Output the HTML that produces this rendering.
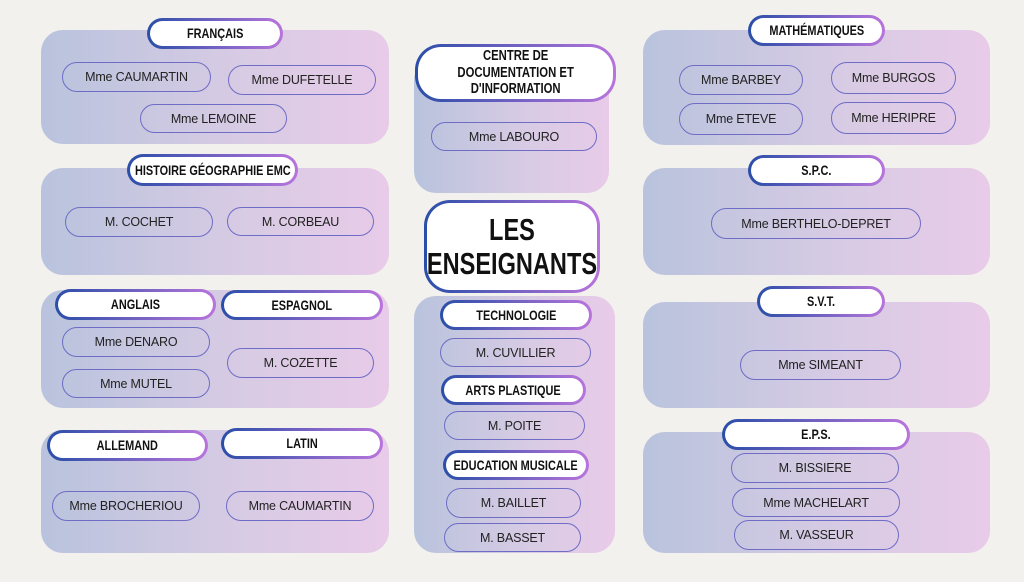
<!DOCTYPE html>
<html><head><meta charset="utf-8"><style>
body{margin:0;width:1024px;height:582px;background:#f3f1ee;position:relative;overflow:hidden;font-family:"Liberation Sans",sans-serif}
.p{position:absolute;border-radius:22px;background:linear-gradient(90deg,#b9c3dd,#d9cbe4 60%,#e8cbe8)}
.h{position:absolute;box-sizing:border-box;border:3px solid transparent;border-radius:18px;background:linear-gradient(#fff,#fff) padding-box,linear-gradient(90deg,#2a4ea8,#b875dc) border-box;display:flex;align-items:center;justify-content:center;text-align:center;font-family:"Liberation Sans",sans-serif;font-weight:bold;font-size:14px;color:#111;line-height:1.2;white-space:nowrap}
.h span{display:inline-block;transform:scaleX(.78)}
.n{position:absolute;box-sizing:border-box;border:1.5px solid #6f6cc6;border-radius:16px;display:flex;align-items:center;justify-content:center;font-size:12.5px;color:#222;letter-spacing:-0.2px;white-space:nowrap}
</style></head><body>
<div class="p" style="left:41px;top:30px;width:348px;height:114px"></div>
<div class="p" style="left:41px;top:168px;width:348px;height:107px"></div>
<div class="p" style="left:41px;top:290px;width:348px;height:118px"></div>
<div class="p" style="left:41px;top:430px;width:348px;height:123px"></div>
<div class="p" style="left:414px;top:58px;width:195px;height:135px"></div>
<div class="p" style="left:414px;top:296px;width:201px;height:257px"></div>
<div class="p" style="left:643px;top:30px;width:347px;height:115px"></div>
<div class="p" style="left:643px;top:168px;width:347px;height:107px"></div>
<div class="p" style="left:643px;top:302px;width:347px;height:106px"></div>
<div class="p" style="left:643px;top:432px;width:347px;height:121px"></div>

<div class="h" style="left:147px;top:18px;width:136px;height:31px"><span>FRANÇAIS</span></div>
<div class="h" style="left:127px;top:154px;width:171px;height:32px"><span>HISTOIRE GÉOGRAPHIE EMC</span></div>
<div class="h" style="left:55px;top:289px;width:161px;height:31px"><span>ANGLAIS</span></div>
<div class="h" style="left:221px;top:290px;width:162px;height:30px"><span>ESPAGNOL</span></div>
<div class="h" style="left:47px;top:430px;width:161px;height:31px"><span>ALLEMAND</span></div>
<div class="h" style="left:221px;top:428px;width:162px;height:31px"><span>LATIN</span></div>
<div class="h" style="left:415px;top:44px;width:201px;height:58px;border-radius:26px;font-size:14.5px;line-height:1.15"><span>CENTRE DE<br>DOCUMENTATION ET<br>D'INFORMATION</span></div>
<div class="h" style="left:424px;top:200px;width:176px;height:93px;border-radius:26px;font-size:31px;line-height:1.08"><span style="transform:scaleX(.76)">LES<br>ENSEIGNANTS</span></div>
<div class="h" style="left:440px;top:300px;width:152px;height:30px"><span>TECHNOLOGIE</span></div>
<div class="h" style="left:441px;top:375px;width:145px;height:30px"><span>ARTS PLASTIQUE</span></div>
<div class="h" style="left:443px;top:450px;width:146px;height:30px"><span>EDUCATION MUSICALE</span></div>
<div class="h" style="left:748px;top:15px;width:137px;height:31px"><span>MATHÉMATIQUES</span></div>
<div class="h" style="left:748px;top:155px;width:137px;height:31px"><span>S.P.C.</span></div>
<div class="h" style="left:757px;top:286px;width:128px;height:31px"><span>S.V.T.</span></div>
<div class="h" style="left:722px;top:419px;width:188px;height:31px"><span>E.P.S.</span></div>

<div class="n" style="left:62px;top:62px;width:149px;height:30px">Mme CAUMARTIN</div>
<div class="n" style="left:228px;top:65px;width:148px;height:30px">Mme DUFETELLE</div>
<div class="n" style="left:140px;top:104px;width:147px;height:29px">Mme LEMOINE</div>
<div class="n" style="left:65px;top:207px;width:148px;height:30px">M. COCHET</div>
<div class="n" style="left:227px;top:207px;width:147px;height:29px">M. CORBEAU</div>
<div class="n" style="left:62px;top:327px;width:148px;height:30px">Mme DENARO</div>
<div class="n" style="left:62px;top:369px;width:148px;height:29px">Mme MUTEL</div>
<div class="n" style="left:227px;top:348px;width:147px;height:30px">M. COZETTE</div>
<div class="n" style="left:52px;top:491px;width:148px;height:30px">Mme BROCHERIOU</div>
<div class="n" style="left:226px;top:491px;width:148px;height:30px">Mme CAUMARTIN</div>
<div class="n" style="left:431px;top:122px;width:166px;height:29px">Mme LABOURO</div>
<div class="n" style="left:440px;top:338px;width:151px;height:29px">M. CUVILLIER</div>
<div class="n" style="left:444px;top:411px;width:141px;height:29px">M. POITE</div>
<div class="n" style="left:446px;top:488px;width:135px;height:30px">M. BAILLET</div>
<div class="n" style="left:444px;top:523px;width:137px;height:29px">M. BASSET</div>
<div class="n" style="left:679px;top:65px;width:124px;height:30px">Mme BARBEY</div>
<div class="n" style="left:831px;top:62px;width:125px;height:32px">Mme BURGOS</div>
<div class="n" style="left:679px;top:103px;width:124px;height:32px">Mme ETEVE</div>
<div class="n" style="left:831px;top:102px;width:125px;height:32px">Mme HERIPRE</div>
<div class="n" style="left:711px;top:208px;width:210px;height:31px">Mme BERTHELO-DEPRET</div>
<div class="n" style="left:740px;top:350px;width:161px;height:30px">Mme SIMEANT</div>
<div class="n" style="left:731px;top:453px;width:168px;height:30px">M. BISSIERE</div>
<div class="n" style="left:732px;top:488px;width:168px;height:29px">Mme MACHELART</div>
<div class="n" style="left:734px;top:520px;width:165px;height:30px">M. VASSEUR</div>
</body></html>
